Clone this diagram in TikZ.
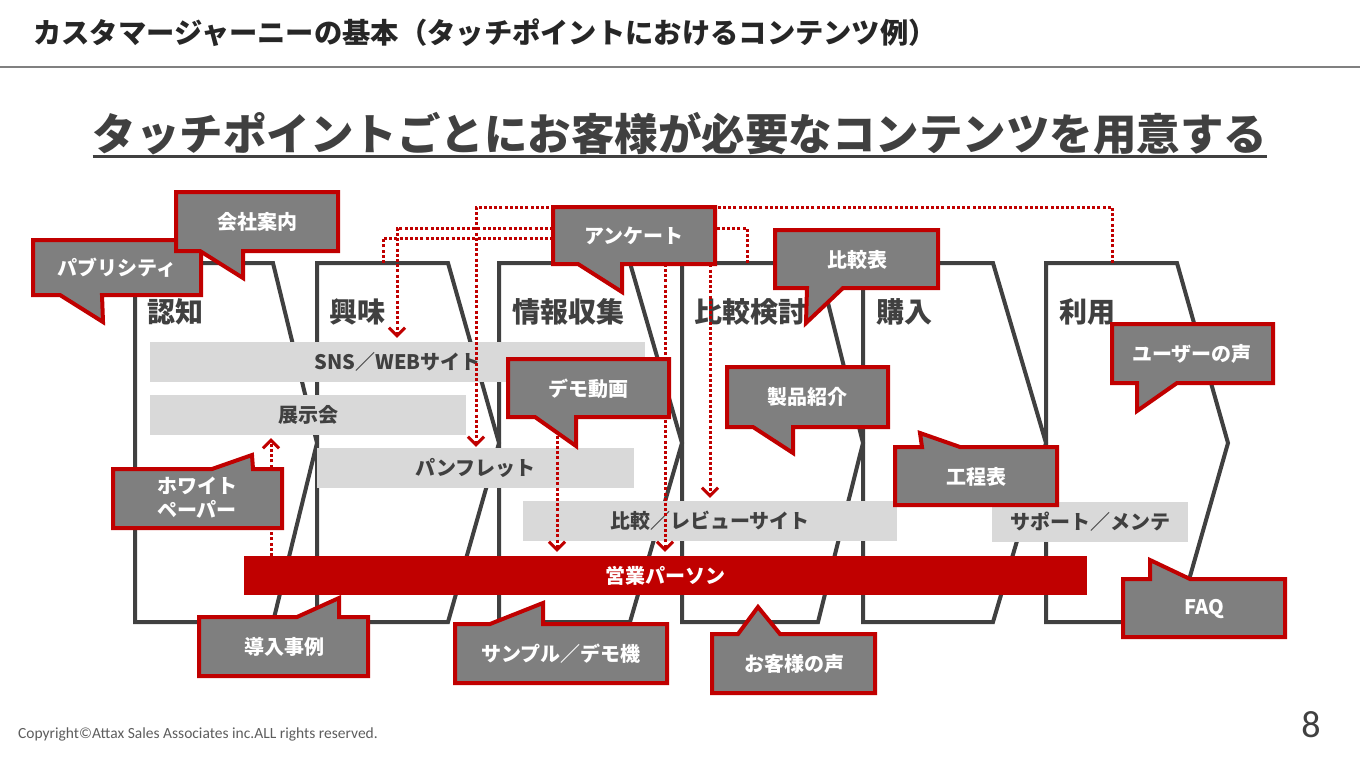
\documentclass[tikz,border=0pt]{standalone}
\usepackage{fontspec}
\setmainfont{Noto Sans CJK JP}
\newfontfamily\carlito{Carlito}
\usetikzlibrary{arrows.meta}
\definecolor{sred}{HTML}{C00000}
\definecolor{sgray}{HTML}{404040}
\definecolor{cfill}{HTML}{7F7F7F}
\definecolor{barg}{HTML}{D9D9D9}
\definecolor{ttl}{HTML}{262626}
\definecolor{rule}{HTML}{808080}
\tikzset{
  stagebox/.style={draw=sgray, line width=4pt, line join=miter},
  stagelabel/.style={anchor=west, inner sep=0pt, text=sgray, font=\bfseries\fontsize{28}{32}\selectfont},
  graybar/.style={fill=barg, inner sep=0pt, text=sgray, font=\bfseries\fontsize{20}{23}\selectfont},
  redbar/.style={fill=sred, inner sep=0pt, text=white, font=\bfseries\fontsize{20}{23}\selectfont},
  callbox/.style={fill=cfill, draw=sred, line width=4pt, line join=miter},
  calltext/.style={inner sep=0pt, text=white, align=center, font=\bfseries\fontsize{20}{24}\selectfont},
  dotarrow/.style={draw=sred, line width=3pt, dash pattern=on 3pt off 2.2pt, -{Straight Barb[length=8pt,width=16pt]}},
}
\begin{document}
\begin{tikzpicture}[x=1pt,y=-1pt]
\useasboundingbox (0,0) rectangle (1360,766);
% header
\node[anchor=west, inner sep=0pt, text=ttl, font=\bfseries\fontsize{28.3}{31}\selectfont] (title) at (33,33) {カスタマージャーニーの基本（タッチポイントにおけるコンテンツ例）};
\coordinate (ruleL) at (0,67);
\coordinate (ruleR) at (1360,67);
\draw[rule, line width=2pt] (ruleL) -- (ruleR);
\node[inner sep=0pt, text=sgray, font=\bfseries\fontsize{43.5}{48}\selectfont] (head) at (680,134) {タッチポイントごとにお客様が必要なコンテンツを用意する};
\draw[sgray, line width=3pt] ([yshift=-6pt]head.base west) -- ([yshift=-6pt]head.base east);

% stages
\draw[stagebox] (135,263) -- (273,263) -- (317,443) -- (273,622) -- (135,622) -- cycle;
\draw[stagebox] (317,263) -- (448,263) -- (499,443) -- (448,622) -- (317,622) -- cycle;
\draw[stagebox] (499,263) -- (630,263) -- (682,443) -- (630,622) -- (499,622) -- cycle;
\draw[stagebox] (682,263) -- (818,263) -- (863,443) -- (818,622) -- (682,622) -- cycle;
\draw[stagebox] (863,263) -- (993,263) -- (1046,443) -- (993,622) -- (863,622) -- cycle;
\draw[stagebox] (1046,263) -- (1177,263) -- (1228,443) -- (1177,622) -- (1046,622) -- cycle;
\node[stagelabel] (l1) at (147,312) {認知};
\node[stagelabel] (l2) at (329,312) {興味};
\node[stagelabel] (l3) at (512,312) {情報収集};
\node[stagelabel] (l4) at (694,312) {比較検討};
\node[stagelabel] (l5) at (876,312) {購入};
\node[stagelabel] (l6) at (1059,312) {利用};

% bars
\node[graybar, minimum width=495pt, minimum height=40pt] (sns) at (397.5,362) {SNS／WEBサイト};
\node[graybar, minimum width=316pt, minimum height=40pt] (expo) at (308,415) {展示会};
\node[graybar, minimum width=317pt, minimum height=40pt] (pan) at (475.5,468) {パンフレット};
\node[graybar, minimum width=374pt, minimum height=40pt] (rev) at (710,521) {比較／レビューサイト};
\node[graybar, minimum width=196pt, minimum height=40pt] (sup) at (1090,522) {サポート／メンテ};
\node[redbar, minimum width=843pt, minimum height=39pt] (sales) at (665.5,575.5) {営業パーソン};

% dotted connectors
\coordinate (u1) at (1112,263);
\coordinate (a1) at (476,207);
\coordinate (u2) at (747,263);
\coordinate (a2) at (397,228);
\coordinate (u3) at (383,263);
\coordinate (a3) at (665,238);
\coordinate (a4) at (710,228);
\coordinate (a5) at (557,420);
\coordinate (a6) at (271,556);
\draw[dotarrow] (u1) |- (a1) -- ([yshift=1pt]a1 |- pan.north);
\draw[dotarrow] (u2) |- (a2) -- ([yshift=4pt]a2 |- sns.north);
\draw[dotarrow] (u3) |- (a3) -- ([yshift=4pt]a3 |- sales.north);
\draw[dotarrow] (a4) -- ([yshift=3pt]a4 |- rev.north);
\draw[dotarrow] (a5) -- ([yshift=4pt]a5 |- sales.north);
\draw[dotarrow] (a6) -- ([yshift=-3pt]a6 |- expo.south);

% callouts
\draw[callbox] (33,240) -- (201,240) -- (201,295) -- (102,295) -- (103,322) -- (60,295) -- (33,295) -- cycle;
\node[calltext] (pub) at (117,268) {パブリシティ};
\draw[callbox] (176,192) -- (338,192) -- (338,251) -- (243,251) -- (243,278) -- (200,251) -- (176,251) -- cycle;
\node[calltext] (kaisha) at (257,222) {会社案内};
\draw[callbox] (553,207) -- (715,207) -- (715,264) -- (622,264) -- (622,292) -- (578,264) -- (553,264) -- cycle;
\node[calltext] (enq) at (634,236) {アンケート};
\draw[callbox] (775,230) -- (938,230) -- (938,288) -- (843,288) -- (806,323) -- (807,288) -- (775,288) -- cycle;
\node[calltext] (hikaku) at (857,260) {比較表};
\draw[callbox] (1112,324) -- (1273,324) -- (1273,383) -- (1177,383) -- (1137,411) -- (1137,383) -- (1112,383) -- cycle;
\node[calltext] (user) at (1192,354) {ユーザーの声};
\draw[callbox] (508,359) -- (669,359) -- (669,417) -- (576,417) -- (576,446) -- (535,417) -- (508,417) -- cycle;
\node[calltext] (demo) at (588,389) {デモ動画};
\draw[callbox] (727,367) -- (888,367) -- (888,427) -- (793,427) -- (793,453) -- (753,427) -- (727,427) -- cycle;
\node[calltext] (seihin) at (807,397) {製品紹介};
\draw[callbox] (895,447) -- (922,447) -- (920,433) -- (960,447) -- (1057,447) -- (1057,505) -- (895,505) -- cycle;
\node[calltext] (koutei) at (976,477) {工程表};
\draw[callbox] (1123,579) -- (1150,579) -- (1150,560) -- (1190,579) -- (1285,579) -- (1285,637) -- (1123,637) -- cycle;
\node[calltext] (faq) at (1204,609) {FAQ};
\draw[callbox] (113,469) -- (212,469) -- (252,455) -- (253,469) -- (282,469) -- (282,528) -- (113,528) -- cycle;
\node[calltext] (white) at (197,498) {ホワイト\\ペーパー};
\draw[callbox] (199,617) -- (297,617) -- (339,598) -- (339,617) -- (368,617) -- (368,676) -- (199,676) -- cycle;
\node[calltext] (dounyu) at (284,647) {導入事例};
\draw[callbox] (455,624) -- (490,624) -- (543,603) -- (543,624) -- (667,624) -- (667,683) -- (455,683) -- cycle;
\node[calltext] (sample) at (561,654) {サンプル／デモ機};
\draw[callbox] (712,634) -- (738,634) -- (758,607) -- (780,634) -- (875,634) -- (875,693) -- (712,693) -- cycle;
\node[calltext] (okyaku) at (794,664) {お客様の声};

% footer
\node[anchor=west, inner sep=0pt, text=sgray!85, font=\carlito\fontsize{15.5}{18}\selectfont] (copy) at (18,734) {Copyright©Attax Sales Associates inc.ALL rights reserved.};
\node[inner sep=0pt, text=sgray, font=\carlito\fontsize{38}{40}\selectfont] (page) at (1311,725) {8};
\end{tikzpicture}
\end{document}
